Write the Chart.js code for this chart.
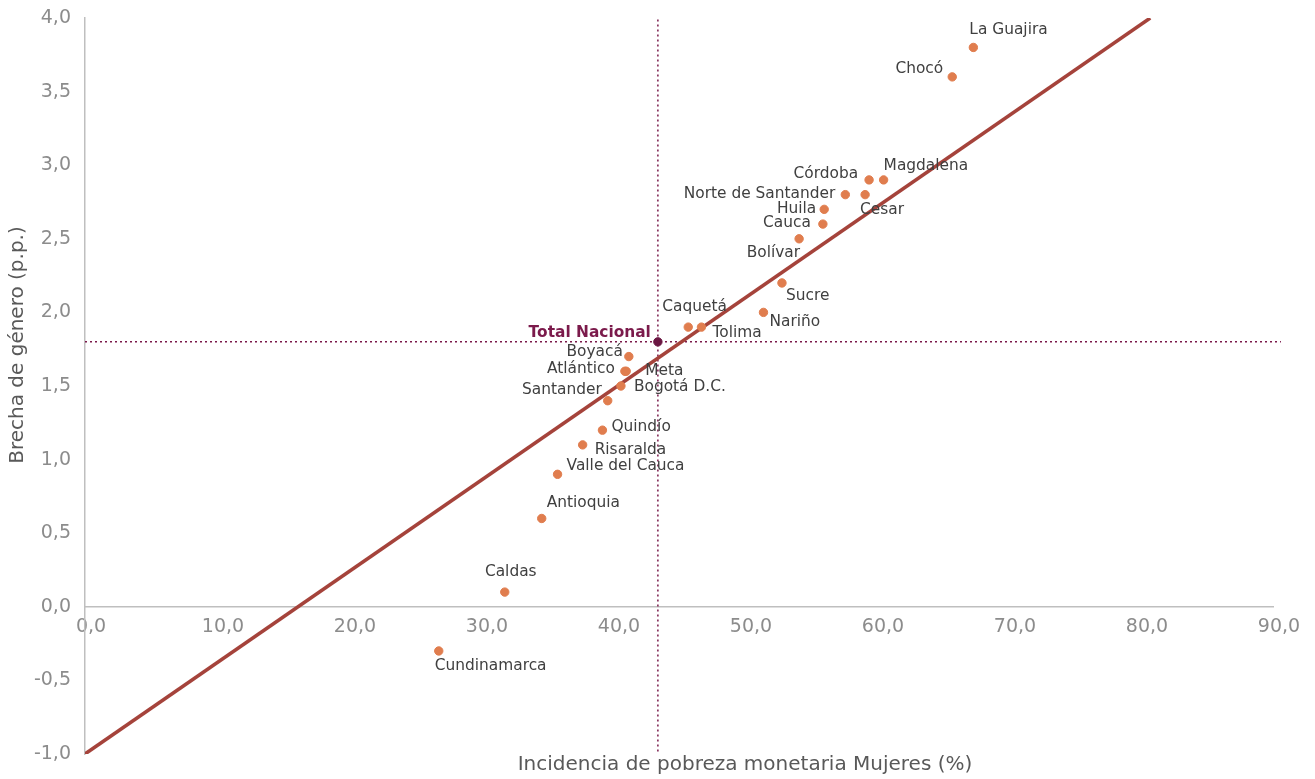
<!DOCTYPE html>
<html>
<head>
<meta charset="utf-8">
<script src="https://cdn.jsdelivr.net/npm/chart.js@4.4.1/dist/chart.umd.min.js"></script>
<style>
  html, body { margin: 0; padding: 0; background: #fff; }
  #wrap { width: 1315px; height: 779px; }
</style>
</head>
<body>
<div id="wrap"><canvas id="myChart" width="1315" height="779"></canvas></div>
<script>
// departamentos y valores
var departamentos = ['La Guajira','Chocó','Magdalena','Córdoba','Norte de Santander','Cesar','Huila','Cauca','Bolívar','Sucre','Nariño','Caquetá','Tolima','Boyacá','Atlántico','Meta','Bogotá D.C.','Santander','Quindío','Risaralda','Valle del Cauca','Antioquia','Caldas','Cundinamarca'];
var pobrezaMujeres = [67.3, 65.7, 60.5, 59.4, 57.6, 59.1, 56.0, 55.9, 54.1, 52.8, 51.4, 45.7, 46.7, 41.2, 40.9, 41.0, 40.6, 39.6, 39.2, 37.7, 35.8, 34.6, 31.8, 26.8];
var brechaGenero = [3.8, 3.6, 2.9, 2.9, 2.8, 2.8, 2.7, 2.6, 2.5, 2.2, 2.0, 1.9, 1.9, 1.7, 1.6, 1.6, 1.5, 1.4, 1.2, 1.1, 0.9, 0.6, 0.1, -0.3];
var totalNacional = [43.4, 1.8];
var tendenciaX = [0, 80.7];
var tendenciaY = [-1.0, 4.0];
var xTicks = [0, 10, 20, 30, 40, 50, 60, 70, 80, 90];
var yTicks = [-1.0, -0.5, 0.0, 0.5, 1.0, 1.5, 2.0, 2.5, 3.0, 3.5, 4.0];

// where each label sits relative to its dot (px): [dx, dy, align]
var labelPos = {
  'La Guajira': [-4, -17, 'left'],
  'Chocó': [-9, -8, 'right'],
  'Magdalena': [0, -14, 'left'],
  'Córdoba': [-11, -6, 'right'],
  'Norte de Santander': [-10, -1, 'right'],
  'Cesar': [-5, 15, 'left'],
  'Huila': [-8, 0, 'right'],
  'Cauca': [-12, -1, 'right'],
  'Bolívar': [1, 14, 'right'],
  'Sucre': [4, 13, 'left'],
  'Nariño': [6, 10, 'left'],
  'Caquetá': [-26, -20, 'left'],
  'Tolima': [11, 6, 'left'],
  'Boyacá': [-6, -5, 'right'],
  'Atlántico': [-10, -2, 'right'],
  'Meta': [19, 0, 'left'],
  'Bogotá D.C.': [13, 1, 'left'],
  'Santander': [-6, -11, 'right'],
  'Quindío': [9, -3, 'left'],
  'Risaralda': [12, 5, 'left'],
  'Valle del Cauca': [9, -8, 'left'],
  'Antioquia': [5, -15, 'left'],
  'Caldas': [6, -20, 'center'],
  'Cundinamarca': [-4, 15, 'left']
};

var FONT = '"DejaVu Sans", Verdana, sans-serif';

function fmt(v){
  return Number(v).toFixed(1).replace('.', ',');
}

var pointsData = departamentos.map(function(d, i){
  return {x: pobrezaMujeres[i], y: brechaGenero[i]};
});

// lineas punteadas del total nacional, debajo de los puntos
var refLines = {
  id: 'refLines',
  beforeDatasetsDraw: function(chart){
    var ctx = chart.ctx;
    var xs = chart.scales.x, ys = chart.scales.y;
    var px = xs.getPixelForValue(totalNacional[0]);
    var py = ys.getPixelForValue(totalNacional[1]);
    ctx.save();
    ctx.strokeStyle = '#7b1a4b';
    ctx.lineWidth = 1.5;
    ctx.setLineDash([2, 3]);
    ctx.beginPath();
    ctx.moveTo(xs.getPixelForValue(0), py);
    ctx.lineTo(xs.getPixelForValue(90.6), py);
    ctx.stroke();
    ctx.beginPath();
    ctx.moveTo(px, ys.getPixelForValue(3.99));
    ctx.lineTo(px, ys.getPixelForValue(-0.99));
    ctx.stroke();
    ctx.restore();
  }
};

var labelPlugin = {
  id: 'labelPlugin',
  afterDatasetsDraw: function(chart){
    var ctx = chart.ctx;
    var meta = chart.getDatasetMeta(0);
    ctx.save();
    ctx.font = '15.4px ' + FONT;
    ctx.fillStyle = '#404040';
    ctx.textBaseline = 'middle';
    meta.data.forEach(function(pt, i){
      var p = labelPos[departamentos[i]] || [6, 0, 'left'];
      ctx.textAlign = p[2];
      ctx.fillText(departamentos[i], pt.x + p[0], pt.y + p[1]);
    });
    // total nacional
    var t = chart.getDatasetMeta(1).data[0];
    ctx.font = 'bold 15.4px ' + FONT;
    ctx.fillStyle = '#7b1a4b';
    ctx.textAlign = 'right';
    ctx.fillText('Total Nacional', t.x - 7, t.y - 9);

    // titulos de ejes
    ctx.font = '20px ' + FONT;
    ctx.fillStyle = '#595959';
    ctx.textAlign = 'center';
    ctx.fillText('Incidencia de pobreza monetaria Mujeres (%)', 745, 765);
    ctx.translate(18, 345);
    ctx.rotate(-Math.PI / 2);
    ctx.fillText('Brecha de género (p.p.)', 0, 0);
    ctx.restore();
  }
};

function drawChart(){
  var ctx = document.getElementById('myChart').getContext('2d');
  var chart = new Chart(ctx, {
    type: 'scatter',
    data: {
      datasets: [{
        label: 'Departamentos',
        data: pointsData,
        backgroundColor: '#e07d4e',
        borderColor: '#e07d4e',
        pointRadius: 4.2,
        pointHoverRadius: 4.2,
        order: 0
      },
      {
        label: 'Total Nacional',
        data: [{x: totalNacional[0], y: totalNacional[1]}],
        backgroundColor: '#6b1742',
        borderColor: '#6b1742',
        pointRadius: 4.2,
        order: 0
      },
      {
        label: 'Tendencia',
        type: 'line',
        data: [{x: tendenciaX[0], y: tendenciaY[0]}, {x: tendenciaX[1], y: tendenciaY[1]}],
        borderColor: '#a5433b',
        borderWidth: 3.5,
        pointRadius: 0,
        fill: false,
        order: 2
      }]
    },
    options: {
      responsive: false,
      animation: false,
      layout: { padding: { left: 0, top: 18, right: 42, bottom: 25 } },
      plugins: {
        legend: { display: false },
        tooltip: { enabled: false }
      },
      scales: {
        x: {
          type: 'linear',
          position: { y: 0 },
          min: 0,
          max: 90,
          afterBuildTicks: function(s){ s.ticks = xTicks.map(function(v){ return {value: v}; }); },
          afterFit: function(s){ s.paddingLeft = 0; s.paddingRight = 0; },
          grid: { display: false, drawTicks: false },
          border: { display: true, color: '#bfbfbf', width: 1.5 },
          ticks: {
            padding: 9,
            labelOffset: 6,
            color: '#8c8c8c',
            font: { family: FONT, size: 19 },
            callback: function(v){ return fmt(v); }
          }
        },
        y: {
          type: 'linear',
          min: -1,
          max: 4,
          afterBuildTicks: function(s){ s.ticks = yTicks.map(function(v){ return {value: v}; }); },
          afterFit: function(s){ s.width = 85; s.paddingTop = 0; s.paddingBottom = 0; },
          grid: { display: false, drawTicks: false },
          border: { display: true, color: '#bfbfbf', width: 1.5 },
          ticks: {
            padding: 14,
            color: '#8c8c8c',
            font: { family: FONT, size: 19 },
            callback: function(v){ return fmt(v); }
          }
        }
      }
    },
    plugins: [refLines, labelPlugin]
  });
}

drawChart();
</script>
</body>
</html>
